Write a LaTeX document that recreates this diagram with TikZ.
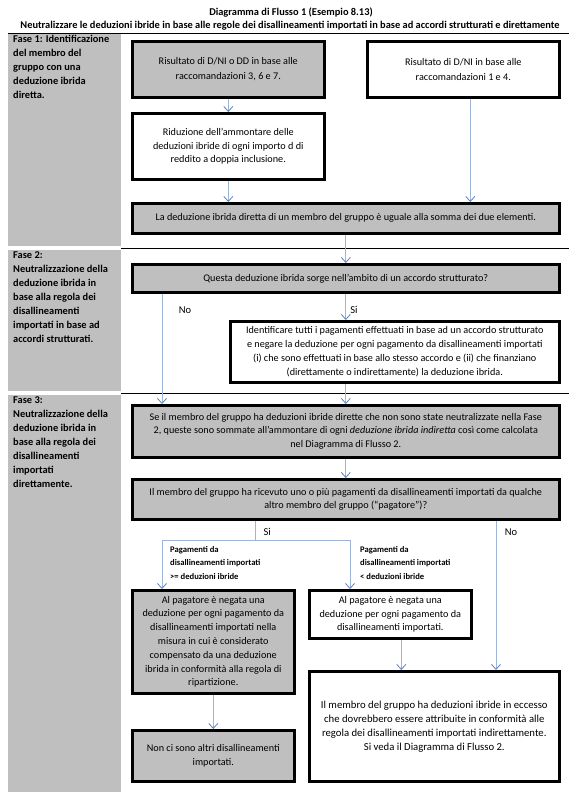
\documentclass[tikz,border=0pt]{standalone}
\usepackage{fontspec}
\setmainfont{Carlito}
\usepackage{xcolor}
\usepackage{tikz}
\usetikzlibrary{arrows.meta,positioning}
\definecolor{cellgray}{HTML}{BFBFBF}
\definecolor{flowline}{HTML}{9DB5D6}
\definecolor{flowtip}{HTML}{5A83BD}
\tikzset{
  flow/.style={-{Straight Barb[length=5pt,width=9pt,line width=0.8pt,color=flowtip]}, line width=1pt, draw=flowline},
  branch/.style={line width=1pt, draw=flowline},
  rule/.style={line width=0.8pt, draw=black},
  box/.style={draw=black, line width=2.6pt, align=center, inner sep=3pt,
              anchor=north west, font=\fontsize{10.2}{13.8}\selectfont},
  graybox/.style={box, fill=cellgray},
  whitebox/.style={box, fill=white},
  phase/.style={anchor=north west, align=left, inner sep=0pt,
                font=\bfseries\fontsize{10.4}{14}\selectfont},
  tag/.style={anchor=north west, align=left, inner sep=0pt,
              font=\bfseries\fontsize{8.6}{13.5}\selectfont},
  answer/.style={inner sep=0pt, font=\fontsize{10.5}{12}\selectfont},
  heading/.style={inner sep=0pt, font=\bfseries\fontsize{10.4}{12}\selectfont}
}

\begin{document}
\begin{tikzpicture}[x=1pt, y=-1pt]
  \useasboundingbox (0,0) rectangle (583,800);

  \node[heading] (title) at (291,13) {Diagramma di Flusso 1 (Esempio 8.13)};
  \node[heading] (subtitle) at (290,26) {Neutralizzare le deduzioni ibride in base alle regole dei disallineamenti importati in base ad accordi strutturati e direttamente};
  \draw[rule] (8,33) -- (569,33);

  \fill[cellgray] (8,34) rectangle (121,246);
  \fill[cellgray] (8,250) rectangle (121,391);
  \fill[cellgray] (8,395) rectangle (121,792);
  \draw[rule] (121,248) -- (569,248);
  \draw[rule] (121,393) -- (569,393);

  \node[phase] (fase1) at (13,35) {Fase 1: Identificazione\\del membro del\\gruppo con una\\deduzione ibrida\\diretta.};
  \node[phase] (fase2) at (13,251) {Fase 2:\\Neutralizzazione della\\deduzione ibrida in\\base alla regola dei\\disallineamenti\\importati in base ad\\accordi strutturati.};
  \node[phase] (fase3) at (13,396) {Fase 3:\\Neutralizzazione della\\deduzione ibrida in\\base alla regola dei\\disallineamenti\\importati\\direttamente.};

  \node[graybox, minimum width=192pt, minimum height=56pt, font=\fontsize{10.2}{15}\selectfont] (dnidd) at (131,40) {Risultato di D/NI o DD in base alle\\raccomandazioni 3, 6 e 7.};
  \node[whitebox, minimum width=192pt, minimum height=56pt, font=\fontsize{10.2}{15}\selectfont] (dni) at (366,40) {Risultato di D/NI in base alle\\raccomandazioni 1 e 4.};
  \node[whitebox, minimum width=192pt, minimum height=66pt] (reduce) at (131,112) {Riduzione dell’ammontare delle\\deduzioni ibride di ogni importo d di\\reddito a doppia inclusione.};
  \node[graybox, minimum width=427pt, minimum height=30pt] (sumup) at (131,202) {La deduzione ibrida diretta di un membro del gruppo è uguale alla somma dei due elementi.};

  \node[graybox, minimum width=427pt, minimum height=28pt] (structq) at (131,263) {Questa deduzione ibrida sorge nell’ambito di un accordo strutturato?};
  \node[whitebox, minimum width=329pt, minimum height=61pt] (deny) at (229,320) {Identificare tutti i pagamenti effettuati in base ad un accordo strutturato\\e negare la deduzione per ogni pagamento da disallineamenti importati\\(i) che sono effettuati in base allo stesso accordo e (ii) che finanziano\\(direttamente o indirettamente) la deduzione ibrida.};

  \node[graybox, minimum width=427pt, minimum height=52pt] (indirect) at (131,404) {Se il membro del gruppo ha deduzioni ibride dirette che non sono state neutralizzate nella Fase\\2, queste sono sommate all’ammontare di ogni \textit{deduzione ibrida indiretta} così come calcolata\\nel Diagramma di Flusso 2.};
  \node[graybox, minimum width=427pt, minimum height=40pt] (received) at (131,478) {Il membro del gruppo ha ricevuto uno o più pagamenti da disallineamenti importati da qualche\\altro membro del gruppo (“pagatore”)?};
  \node[graybox, minimum width=162pt, minimum height=103pt] (offsetall) at (131,589) {Al pagatore è negata una\\deduzione per ogni pagamento da\\disallineamenti importati nella\\misura in cui è considerato\\compensato da una deduzione\\ibrida in conformità alla regola di\\ripartizione.};
  \node[whitebox, minimum width=162pt, minimum height=48pt] (offsetpart) at (308,589) {Al pagatore è negata una\\deduzione per ogni pagamento da\\disallineamenti importati.};
  \node[whitebox, minimum width=250pt, minimum height=110pt, font=\fontsize{10.7}{14}\selectfont] (excess) at (308,670) {Il membro del gruppo ha deduzioni ibride in eccesso\\che dovrebbero essere attribuite in conformità alle\\regola dei disallineamenti importati indirettamente.\\Si veda il Diagramma di Flusso 2.};
  \node[graybox, minimum width=162pt, minimum height=51pt] (nomore) at (131,729) {Non ci sono altri disallineamenti\\importati.};

  \coordinate (nox) at (162,300);
  \coordinate (fork) at (255,540);
  \coordinate (forkL) at (162,540);
  \coordinate (forkR) at (350,540);
  \coordinate (nor) at (496,540);

  \node[answer] (no1) at (185,310) {No};
  \node[answer] (no2) at (511,532) {No};
  \node[tag] (geq) at (170,546) {Pagamenti da\\disallineamenti importati\\>= deduzioni ibride};
  \node[tag] (less) at (360,546) {Pagamenti da\\disallineamenti importati\\< deduzioni ibride};

  \draw[flow] (dnidd.south) -- (reduce.north);
  \draw[flow] (reduce.south) -- (reduce.south |- sumup.north);
  \draw[flow] ([xshift=7pt]dni.south) -- ([xshift=7pt]dni.south |- sumup.north);
  \draw[flow] (sumup.south) -- (structq.north);
  \draw[flow] (structq.south) -- node[answer, pos=0.62, right=4pt] (yes1) {Si} (structq.south |- deny.north);
  \draw[flow] (structq.south -| nox) -- (indirect.north -| nox);
  \draw[flow] (indirect.north |- deny.south) -- (indirect.north);
  \draw[flow] (indirect.south) -- (received.north);
  \draw[branch] (received.south -| fork) -- node[answer, pos=0.6, right=8pt] (yes2) {Si} (fork);
  \draw[branch] (forkL) -- (forkR);
  \draw[flow] (forkL) -- (forkL |- offsetall.north);
  \draw[flow] (forkR) -- (forkR |- offsetpart.north);
  \draw[flow] (received.south -| nor) -- (excess.north -| nor);
  \draw[flow] (offsetall.south) -- (nomore.north);
  \draw[flow] ([xshift=11pt]offsetpart.south) -- ([xshift=11pt]offsetpart.south |- excess.north);
\end{tikzpicture}
\end{document}
